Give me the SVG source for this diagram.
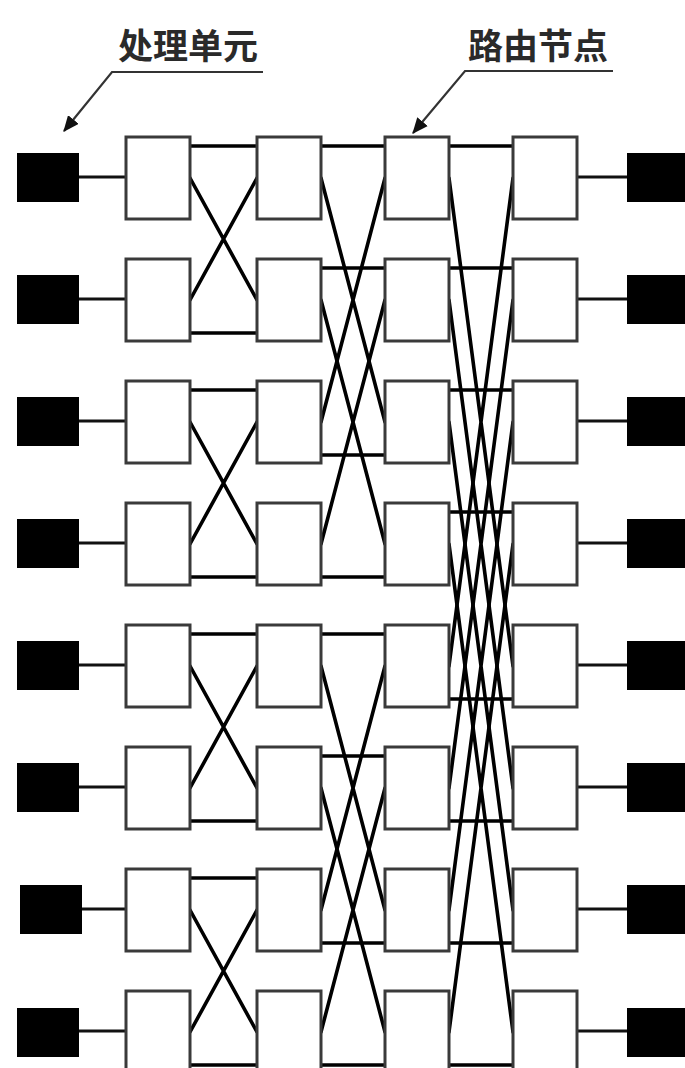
<svg xmlns="http://www.w3.org/2000/svg" width="685" height="1068" viewBox="0 0 685 1068">
<style>
.r{fill:#fff;stroke:#3a3a3a;stroke-width:3}
.pe{fill:#000}
.c{stroke:#000;stroke-width:3.6;fill:none;stroke-linecap:round}
.lk{stroke:#111;stroke-width:3;fill:none}
.lbl{font-family:"Noto Sans CJK SC","Noto Sans",sans-serif;font-size:35px;font-weight:bold;fill:#2a2a2a}
.ld{stroke:#333;stroke-width:2.2;fill:none}
</style>
<defs>
<marker id="ah" viewBox="0 0 14 12" refX="13" refY="6" markerWidth="16" markerHeight="14" markerUnits="userSpaceOnUse" orient="auto">
<path d="M0,0 L14,6 L0,12 z" fill="#111"/>
</marker>
</defs>
<rect width="685" height="1068" fill="#fff"/>
<g id="labels">
<text class="lbl" x="118" y="59">处理单元</text>
<path class="ld" d="M263,72 H112 L64,131" marker-end="url(#ah)"/>
<text class="lbl" x="468" y="59">路由节点</text>
<path class="ld" d="M613,71 H465 L413,133" marker-end="url(#ah)"/>
</g>
<g id="connectors">
<path class="lk" d="M79,177H126M79,299H126M79,421H126M79,543H126M79,665H126M79,787H126M79,909H126M79,1031H126"/>
<path class="lk" d="M577,177H627M577,299H627M577,421H627M577,543H627M577,665H627M577,787H627M577,909H627M577,1031H627"/>
<path class="c" d="M190,146H257M190,333H257M190,178L257,300M190,300L257,178"/>
<path class="c" d="M190,390H257M190,577H257M190,422L257,544M190,544L257,422"/>
<path class="c" d="M190,634H257M190,821H257M190,666L257,788M190,788L257,666"/>
<path class="c" d="M190,878H257M190,1065H257M190,910L257,1032M190,1032L257,910"/>
<path class="c" d="M321,146H385M321,455H385M321,178L385,422M321,422L385,178"/>
<path class="c" d="M321,268H385M321,577H385M321,300L385,544M321,544L385,300"/>
<path class="c" d="M321,634H385M321,943H385M321,666L385,910M321,910L385,666"/>
<path class="c" d="M321,756H385M321,1065H385M321,788L385,1032M321,1032L385,788"/>
<path class="c" d="M449,146H513M449,699H513M449,178L513,666M449,666L513,178"/>
<path class="c" d="M449,268H513M449,821H513M449,300L513,788M449,788L513,300"/>
<path class="c" d="M449,390H513M449,943H513M449,422L513,910M449,910L513,422"/>
<path class="c" d="M449,512H513M449,1065H513M449,544L513,1032M449,1032L513,544"/>
</g>
<g id="pe-left">
<g id="pe-l0"><rect class="pe" x="17" y="153" width="62" height="49"/></g>
<g id="pe-l1"><rect class="pe" x="17" y="275" width="62" height="49"/></g>
<g id="pe-l2"><rect class="pe" x="17" y="397" width="62" height="49"/></g>
<g id="pe-l3"><rect class="pe" x="17" y="519" width="62" height="49"/></g>
<g id="pe-l4"><rect class="pe" x="17" y="641" width="62" height="49"/></g>
<g id="pe-l5"><rect class="pe" x="17" y="763" width="62" height="49"/></g>
<g id="pe-l6"><rect class="pe" x="20" y="885" width="62" height="49"/></g>
<g id="pe-l7"><rect class="pe" x="17" y="1008" width="62" height="49"/></g>
</g>
<g id="pe-right">
<g id="pe-r0"><rect class="pe" x="627" y="153" width="60" height="49"/></g>
<g id="pe-r1"><rect class="pe" x="627" y="275" width="60" height="49"/></g>
<g id="pe-r2"><rect class="pe" x="627" y="397" width="60" height="49"/></g>
<g id="pe-r3"><rect class="pe" x="627" y="519" width="60" height="49"/></g>
<g id="pe-r4"><rect class="pe" x="627" y="641" width="60" height="49"/></g>
<g id="pe-r5"><rect class="pe" x="627" y="763" width="60" height="49"/></g>
<g id="pe-r6"><rect class="pe" x="627" y="885" width="60" height="49"/></g>
<g id="pe-r7"><rect class="pe" x="627" y="1008" width="60" height="49"/></g>
</g>
<g id="routers">
<g id="n0-0"><rect class="r" x="126" y="137" width="64" height="82"/></g>
<g id="n0-1"><rect class="r" x="126" y="259" width="64" height="82"/></g>
<g id="n0-2"><rect class="r" x="126" y="381" width="64" height="82"/></g>
<g id="n0-3"><rect class="r" x="126" y="503" width="64" height="82"/></g>
<g id="n0-4"><rect class="r" x="126" y="625" width="64" height="82"/></g>
<g id="n0-5"><rect class="r" x="126" y="747" width="64" height="82"/></g>
<g id="n0-6"><rect class="r" x="126" y="869" width="64" height="82"/></g>
<g id="n0-7"><rect class="r" x="126" y="991" width="64" height="82"/></g>
<g id="n1-0"><rect class="r" x="257" y="137" width="64" height="82"/></g>
<g id="n1-1"><rect class="r" x="257" y="259" width="64" height="82"/></g>
<g id="n1-2"><rect class="r" x="257" y="381" width="64" height="82"/></g>
<g id="n1-3"><rect class="r" x="257" y="503" width="64" height="82"/></g>
<g id="n1-4"><rect class="r" x="257" y="625" width="64" height="82"/></g>
<g id="n1-5"><rect class="r" x="257" y="747" width="64" height="82"/></g>
<g id="n1-6"><rect class="r" x="257" y="869" width="64" height="82"/></g>
<g id="n1-7"><rect class="r" x="257" y="991" width="64" height="82"/></g>
<g id="n2-0"><rect class="r" x="385" y="137" width="64" height="82"/></g>
<g id="n2-1"><rect class="r" x="385" y="259" width="64" height="82"/></g>
<g id="n2-2"><rect class="r" x="385" y="381" width="64" height="82"/></g>
<g id="n2-3"><rect class="r" x="385" y="503" width="64" height="82"/></g>
<g id="n2-4"><rect class="r" x="385" y="625" width="64" height="82"/></g>
<g id="n2-5"><rect class="r" x="385" y="747" width="64" height="82"/></g>
<g id="n2-6"><rect class="r" x="385" y="869" width="64" height="82"/></g>
<g id="n2-7"><rect class="r" x="385" y="991" width="64" height="82"/></g>
<g id="n3-0"><rect class="r" x="513" y="137" width="64" height="82"/></g>
<g id="n3-1"><rect class="r" x="513" y="259" width="64" height="82"/></g>
<g id="n3-2"><rect class="r" x="513" y="381" width="64" height="82"/></g>
<g id="n3-3"><rect class="r" x="513" y="503" width="64" height="82"/></g>
<g id="n3-4"><rect class="r" x="513" y="625" width="64" height="82"/></g>
<g id="n3-5"><rect class="r" x="513" y="747" width="64" height="82"/></g>
<g id="n3-6"><rect class="r" x="513" y="869" width="64" height="82"/></g>
<g id="n3-7"><rect class="r" x="513" y="991" width="64" height="82"/></g>
</g>
</svg>
